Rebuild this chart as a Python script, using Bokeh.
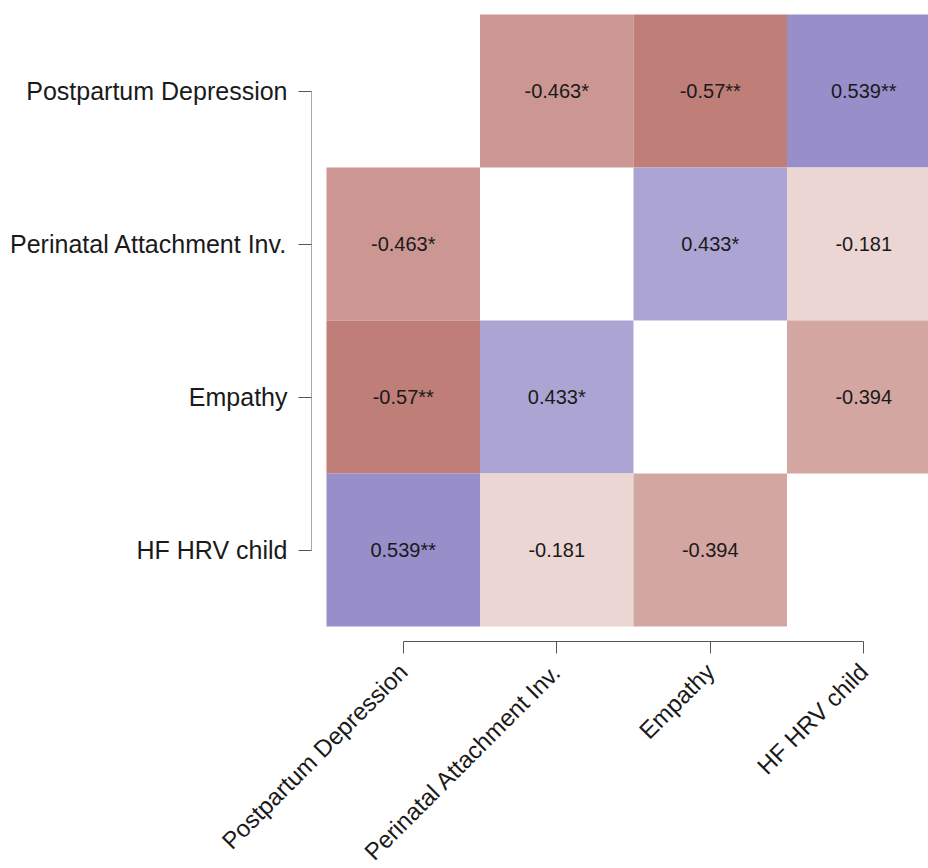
import math
from bokeh.plotting import figure
from bokeh.models import ColumnDataSource, Range1d, FixedTicker
from bokeh.embed import file_html
from bokeh.resources import INLINE
from bokeh.core.properties import value

# ---- data ----
variables = ["Postpartum Depression", "Perinatal Attachment Inv.", "Empathy", "HF HRV child"]
pair_row = [0, 0, 0, 1, 1, 2]
pair_col = [1, 2, 3, 2, 3, 3]
pair_r = [-0.463, -0.57, 0.539, 0.433, -0.181, -0.394]
pair_sig = ["*", "**", "**", "*", "", ""]

# ---- styles ----
FONT = "Liberation Sans"
NEG_END = (110, 226, 236)   # drop from white per unit of |r| (red side)
POS_END = (191, 209, 99)    # drop from white per unit of r (blue side)


def corr_color(r):
    d = NEG_END if r < 0 else POS_END
    a = abs(r)
    rgb = [max(0, min(255, round(255 - a * k))) for k in d]
    return "#%02x%02x%02x" % tuple(rgb)


n = len(variables)
xs, ys, cols, labels = [], [], [], []
for i, j, r, s in zip(pair_row, pair_col, pair_r, pair_sig):
    for (a, b) in ((i, j), (j, i)):
        xs.append(b)
        ys.append(n - 1 - a)
        cols.append(corr_color(r))
        labels.append(f"{r}{s}")

src = ColumnDataSource(dict(x=xs, y=ys, color=cols, label=labels))

# ---- geometry (pixels per unit); frame covers the whole figure ----
PX_X = 153.5
PX_Y = 153.0
FIG_W, FIG_H = 928, 868
CELL_LEFT = 326     # px of first column's left edge
CELL_TOP = 14       # px of first row's top edge
x0 = -0.5 - CELL_LEFT / PX_X
x1 = x0 + FIG_W / PX_X
y1 = (n - 0.5) + CELL_TOP / PX_Y
y0 = y1 - FIG_H / PX_Y
xaxis_y = y1 - 641 / PX_Y
yaxis_x = x0 + 311 / PX_X

p = figure(width=FIG_W, height=FIG_H,
           x_range=Range1d(x0, x1), y_range=Range1d(y0, y1),
           output_backend="svg", toolbar_location=None,
           min_border=0, min_border_left=0, min_border_right=0,
           min_border_top=0, min_border_bottom=0)
p.outline_line_color = None
p.grid.visible = False
p.background_fill_color = "white"
p.border_fill_color = "white"

p.rect(x="x", y="y", width=1, height=1, source=src,
       fill_color="color", line_color=None)
p.text(x="x", y="y", text="label", source=src,
       text_align="center", text_baseline="middle",
       text_font=value(FONT), text_font_size="20px", text_color="#1a1a1a")

# ---- axes ----
ticks = list(range(n))
xa = p.xaxis[0]
xa.ticker = FixedTicker(ticks=ticks)
xa.major_label_overrides = {k: variables[k] for k in ticks}
xa.bounds = (0, n - 1)
xa.fixed_location = xaxis_y
xa.major_label_orientation = math.pi / 4
xa.major_label_text_font = FONT
xa.major_label_text_font_size = "24px"
xa.major_label_text_color = "#1a1a1a"
xa.major_label_standoff = 14
xa.axis_line_color = "#555555"
xa.major_tick_line_color = "#555555"
xa.major_tick_in = 0
xa.major_tick_out = 12
xa.minor_tick_line_color = None

ya = p.yaxis[0]
ya.ticker = FixedTicker(ticks=ticks)
ya.major_label_overrides = {k: variables[n - 1 - k] for k in ticks}
ya.bounds = (0, n - 1)
ya.fixed_location = yaxis_x
ya.major_label_text_font = FONT
ya.major_label_text_font_size = "25px"
ya.major_label_text_color = "#1a1a1a"
ya.major_label_standoff = 11
ya.axis_line_color = "#a8a8a8"
ya.major_tick_line_color = "#555555"
ya.major_tick_in = 0
ya.major_tick_out = 13
ya.minor_tick_line_color = None

open("out.html", "w").write(file_html(p, INLINE))
